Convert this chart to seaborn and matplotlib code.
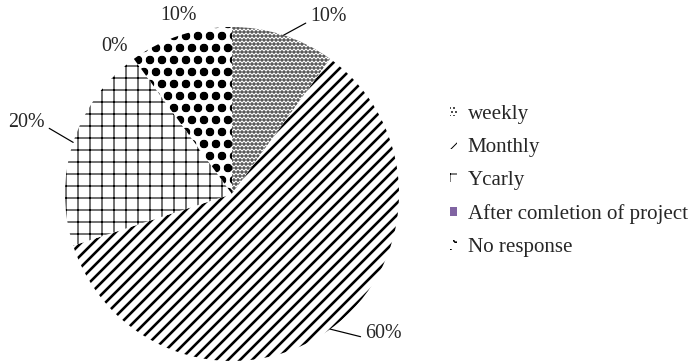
import matplotlib
matplotlib.use("Agg")
import matplotlib.pyplot as plt
import numpy as np
import seaborn as sns

# Survey responses: how often progress is reported
categories = ["weekly", "Monthly", "Ycarly", "After comletion of project", "No response"]
shares = [10, 60, 20, 0, 10]
hatches = ["...", "//", "+", "", "o"]
hatch_widths = [2.3, 2.6, 1.1, 1.0, 3.6]
face_colors = ["white", "white", "white", "#8064a2", "white"]

sns.set_theme(style="white")
plt.rcParams["font.family"] = ["Liberation Serif", "DejaVu Serif"]

W, H, DPI = 689, 363, 72
fig = plt.figure(figsize=(W / DPI, H / DPI), dpi=DPI)
ax = fig.add_axes([0, 0, 1, 1])

# pie centre and radius in pixels
cx, cy, R = 232, 194, 167

wedges, _ = ax.pie(shares, startangle=90, counterclock=False, radius=1,
                   colors=face_colors,
                   wedgeprops=dict(edgecolor="black", linewidth=0))
for w, h, hw, fc in zip(wedges, hatches, hatch_widths, face_colors):
    w.set_hatch(h)
    if hasattr(w, "set_hatch_linewidth"):
        w.set_hatch_linewidth(hw)
    if not h:
        w.set_edgecolor(fc)

ax.set_xlim((0 - cx) / R, (W - cx) / R)
ax.set_ylim(-(H - cy) / R, cy / R)
ax.set_aspect("auto")
ax.axis("off")


def px(x, y):
    return ((x - cx) / R, (cy - y) / R)


# label placement: (text position, horizontal alignment, leader attach point on text)
label_layout = [
    (px(310, 17), "left", (0.0, 0.3)),
    (px(365, 334), "left", (0.0, 0.3)),
    (px(45, 123), "right", (1.0, 0.35)),
    (px(114, 47), "center", None),
    (px(178, 15), "center", None),
]

FS = 20
for w, v, (pos, ha, rel) in zip(wedges, shares, label_layout):
    mid = np.deg2rad((w.theta1 + w.theta2) / 2)
    anchor = (np.cos(mid), np.sin(mid))
    if rel is None:
        ax.text(pos[0], pos[1], f"{v}%", ha=ha, va="center", fontsize=FS)
    else:
        ax.annotate(f"{v}%", xy=anchor, xytext=pos, ha=ha, va="center",
                    fontsize=FS,
                    arrowprops=dict(arrowstyle="-", color="black", lw=1.2,
                                    relpos=rel, shrinkA=2, shrinkB=0))

leg = ax.legend(wedges, categories, loc="upper left",
                bbox_to_anchor=(450 / W, 1 - 105 / H), bbox_transform=fig.transFigure,
                frameon=False, fontsize=21, handlelength=0.34, handleheight=0.34,
                handletextpad=0.5, labelspacing=0.67, borderpad=0, borderaxespad=0)

fig.savefig("out.png", dpi=DPI, facecolor="white")
